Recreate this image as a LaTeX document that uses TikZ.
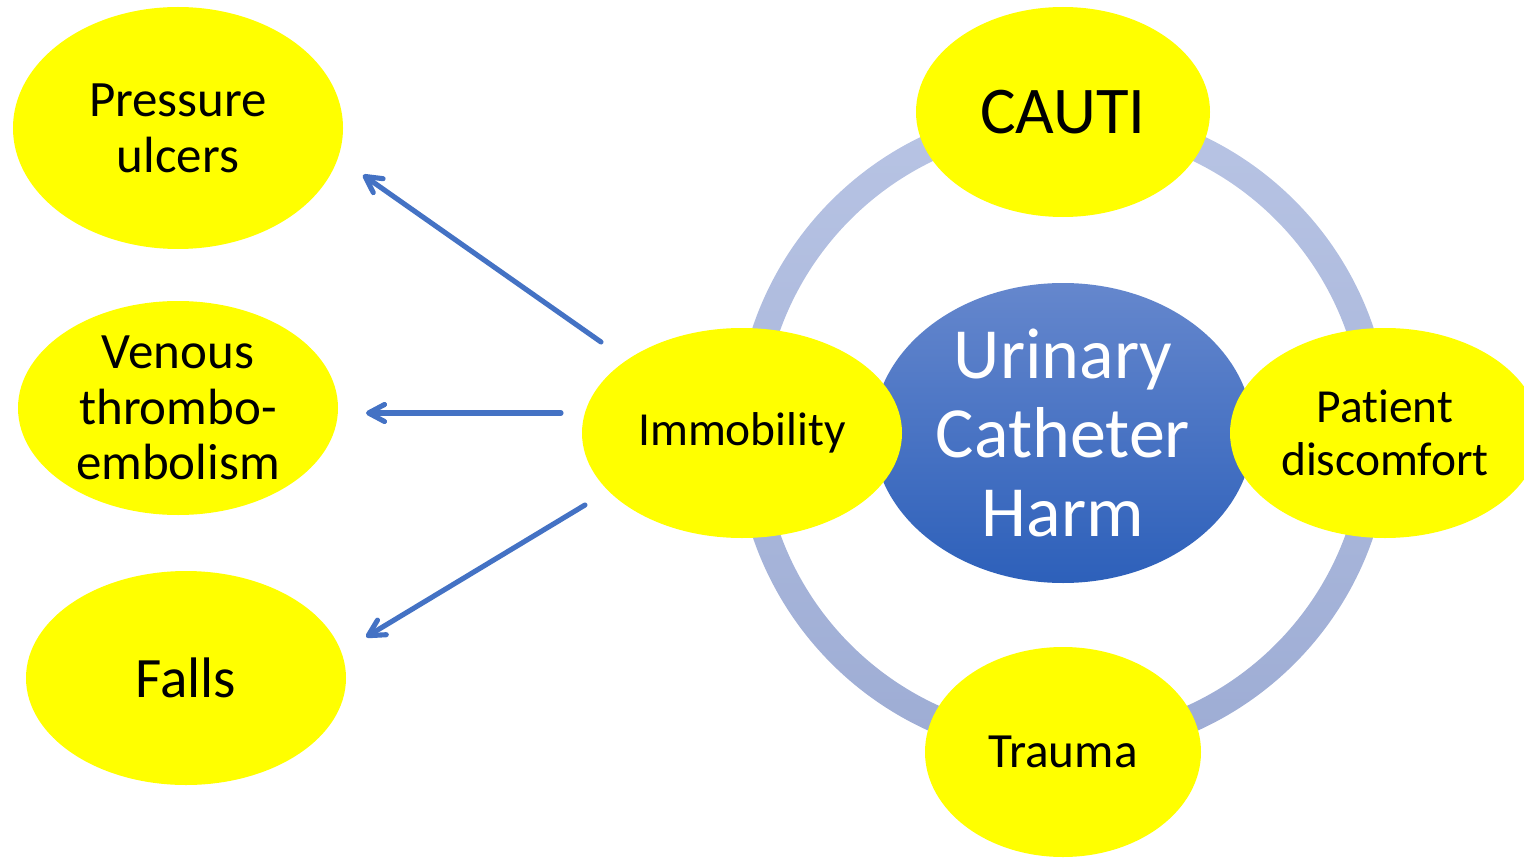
\documentclass[tikz,border=0pt]{standalone}
\usepackage{fontspec}
\setmainfont{Carlito}[Ligatures=NoCommon]
\usetikzlibrary{shapes.geometric,arrows.meta}

\definecolor{harmblue}{HTML}{4472C4}
\definecolor{harmyellow}{HTML}{FFFF00}
\definecolor{ringtop}{HTML}{B8C4E4}
\definecolor{ringbot}{HTML}{9DACD4}
\definecolor{hubtop}{HTML}{6587CD}
\definecolor{hubbot}{HTML}{2D60BA}

\begin{document}
\begin{tikzpicture}[
  bubble/.style={ellipse,fill=harmyellow,inner sep=0pt,align=center,text=black},
  hub/.style={ellipse,inner sep=0pt,align=center,text=white,top color=hubtop,bottom color=hubbot},
  link/.style={harmblue,line width=2.9pt,line join=round,line cap=round,-{Straight Barb[length=3.2mm,width=3.4mm,line join=round,line cap=round]}}
]
\useasboundingbox (0,0) rectangle (30.48,17.16);

% ring behind everything
\shade[even odd rule,top color=ringtop,bottom color=ringbot]
  (21.26,8.52) circle (6.55) (21.26,8.52) circle (6.01);

\node[hub,minimum width=7.6cm,minimum height=6cm,font=\fontsize{41}{45}\selectfont]
  (harm) at (21.26,8.50) {Urinary\\Catheter\\Harm};

\node[bubble,minimum width=5.88cm,minimum height=4.2cm,font=\fontsize{38}{42}\selectfont]
  (cauti) at (21.26,14.92) {CAUTI};
\node[bubble,minimum width=6.2cm,minimum height=4.2cm,font=\fontsize{27}{30.5}\selectfont]
  (disc) at (27.70,8.50) {Patient\\discomfort};
\node[bubble,minimum width=5.52cm,minimum height=4.2cm,font=\fontsize{28}{31}\selectfont]
  (trauma) at (21.26,2.12) {Trauma};
\node[bubble,minimum width=6.4cm,minimum height=4.2cm,font=\fontsize{27}{30}\selectfont]
  (imm) at (14.84,8.50) {Immobility};

\node[bubble,minimum width=6.6cm,minimum height=4.84cm,font=\fontsize{29}{31.7}\selectfont]
  (pu) at (3.56,14.60) {Pressure\\ulcers};
\node[bubble,minimum width=6.4cm,minimum height=4.28cm,font=\fontsize{29}{31.7}\selectfont]
  (vte) at (3.56,9.00) {Venous\\thrombo-\\embolism};
\node[bubble,minimum width=6.4cm,minimum height=4.28cm,font=\fontsize{32.5}{36}\selectfont]
  (falls) at (3.72,3.60) {Falls};

% arrow ends
\coordinate (imm-a) at (12.02,10.32);
\coordinate (imm-b) at (11.22,8.90);
\coordinate (imm-c) at (11.70,7.06);
\coordinate (pu-in) at (7.26,13.66);
\coordinate (vte-in) at (7.32,8.90);
\coordinate (falls-in) at (7.32,4.42);

\draw[link] (imm-a) -- (pu-in);
\draw[link] (imm-b) -- (vte-in);
\draw[link] (imm-c) -- (falls-in);

\end{tikzpicture}
\end{document}
